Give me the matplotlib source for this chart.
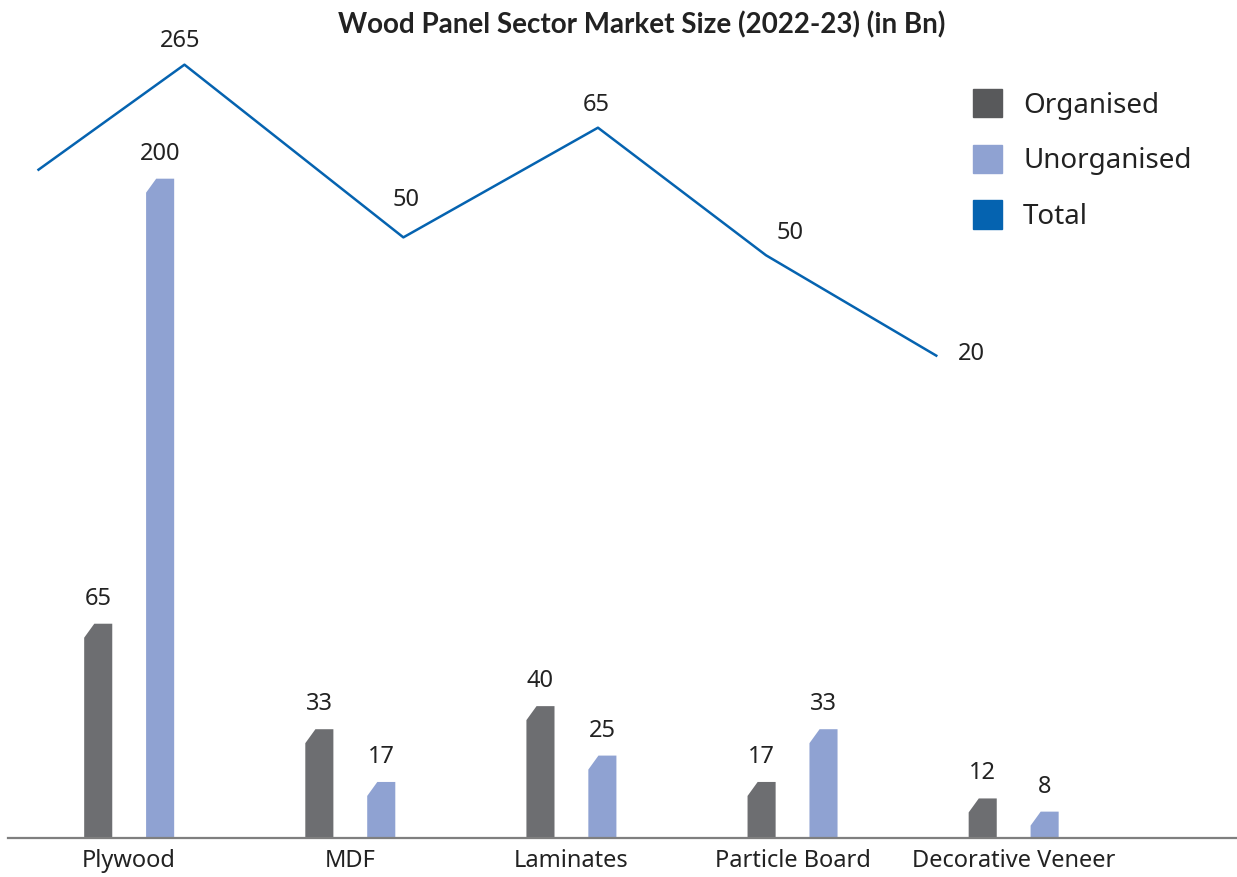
import numpy as np
import matplotlib.pyplot as plt
from matplotlib.patches import Polygon, Patch

plt.rcParams['font.family'] = ['Noto Sans', 'DejaVu Sans']

# Data
categories = ['Plywood', 'MDF', 'Laminates', 'Particle Board', 'Decorative Veneer']
organised = [65, 33, 40, 17, 12]
unorganised = [200, 17, 25, 33, 8]

# Total line: labels as shown, plus the point positions
total_labels = ['', '265', '50', '65', '50', '20']
total_x = [-0.41, 0.25, 1.24, 2.12, 2.88, 3.65]      # in category units
total_level = [85.9, 99.4, 77.2, 91.3, 74.9, 62.0]  # on a 0-100 secondary scale
label_offsets = [(0, 0), (-3, 17), (2, 27), (-1, 16), (17, 16), (25, 1)]  # points

c_org = '#6d6e71'
c_unorg = '#8fa2d2'
c_total = '#0563b0'

fig = plt.figure(figsize=(12.37, 8.77), dpi=100)
ax = fig.add_axes([8 / 1237, 1 - 838 / 877, 1229 / 1237, 778 / 877])

x = np.arange(len(categories))
w = 0.127
off = 0.14
ax.set_xlim(-0.548, 5.01)
ax.set_ylim(0, 236)

def cut_bars(xs, vals, color):
    # bars with the top-left corner clipped
    cut_y = 14 / 3.3
    for xc, v in zip(xs, vals):
        x0, x1 = xc - w / 2, xc + w / 2
        pts = [(x0, 0), (x1, 0), (x1, v), (x0 + 0.36 * w, v), (x0, v - cut_y)]
        ax.add_patch(Polygon(pts, closed=True, facecolor=color, edgecolor='none'))
        ax.annotate(str(v), (xc, v), xytext=(0, 18), textcoords='offset points',
                    ha='center', va='center', fontsize=17, color='#222222')

cut_bars(x - off, organised, c_org)
cut_bars(x + off, unorganised, c_unorg)

for s in ['top', 'right', 'left']:
    ax.spines[s].set_visible(False)
ax.spines['bottom'].set_color('#7f7f7f')
ax.spines['bottom'].set_linewidth(1.6)
ax.set_yticks([])
ax.set_xticks(x)
ax.set_xticklabels(categories, fontsize=17, color='#222222')
ax.tick_params(axis='x', length=0, pad=8)

# Total line on its own scale
ax2 = ax.twinx()
ax2.set_ylim(0, 100)
ax2.set_yticks([])
for s in ax2.spines.values():
    s.set_visible(False)
ax2.plot(total_x, total_level, color=c_total, linewidth=1.8, clip_on=False)
for tx, ty, lab, (dx, dy) in zip(total_x, total_level, total_labels, label_offsets):
    if lab:
        ax2.annotate(lab, (tx, ty), xytext=(dx, dy), textcoords='offset points',
                     ha='center', va='center', fontsize=17, color='#222222')

handles = [Patch(color='#58595b', label='Organised'),
           Patch(color=c_unorg, label='Unorganised'),
           Patch(color=c_total, label='Total')]
fig.legend(handles=handles, loc='upper left', bbox_to_anchor=(948 / 1237, 1 - 64 / 877),
           frameon=False, fontsize=20, handlelength=1.05, handleheight=1.2,
           handletextpad=0.75, labelspacing=0.9, labelcolor='#222222')

fig.text(642 / 1237, 1 - 25 / 877, 'Wood Panel Sector Market Size (2022-23) (in Bn)',
         ha='center', va='center', fontsize=20, fontweight='bold', color='#222222',
         family=['Lato', 'DejaVu Sans'])

fig.savefig('out.png', dpi=100)
